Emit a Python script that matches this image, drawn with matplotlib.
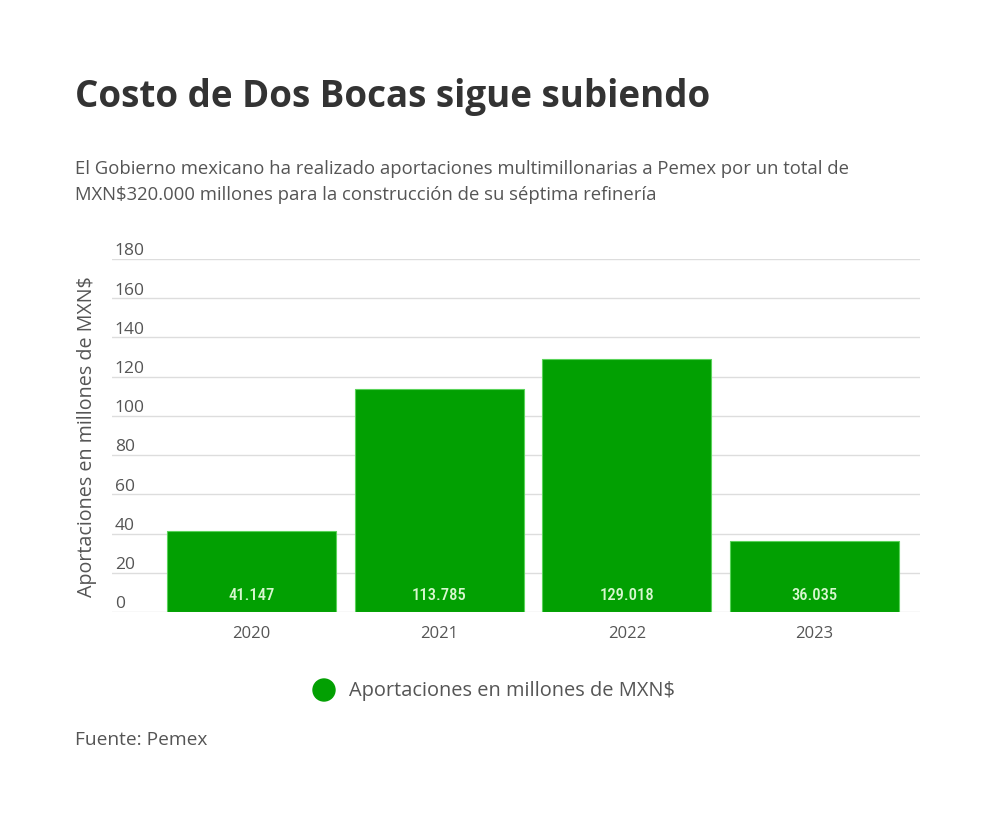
import matplotlib
matplotlib.use("Agg")
import matplotlib.pyplot as plt
from matplotlib.transforms import ScaledTranslation

years = ["2020", "2021", "2022", "2023"]
values = [41.147, 113.785, 129.018, 36.035]
value_labels = ["41.147", "113.785", "129.018", "36.035"]
yticks = [0, 20, 40, 60, 80, 100, 120, 140, 160, 180]

title = "Costo de Dos Bocas sigue subiendo"
subtitle1 = "El Gobierno mexicano ha realizado aportaciones multimillonarias a Pemex por un total de"
subtitle2 = "MXN$320.000 millones para la construcción de su séptima refinería"
ylabel = "Aportaciones en millones de MXN$"
legend_label = "Aportaciones en millones de MXN$"
source = "Fuente: Pemex"

GREEN = "#02a002"
FONT = "Open Sans"

plt.rcParams["font.family"] = [FONT, "DejaVu Sans"]

fig = plt.figure(figsize=(10, 8.37), dpi=100)
fig.patch.set_facecolor("white")
ax = fig.add_axes([0.112, 0.2676, 0.808, 0.4218])

x = list(range(len(years)))
bars = ax.bar(x, values, width=0.9, color=GREEN, edgecolor="#5ad35a", linewidth=0.8, zorder=3)

ax.set_xlim(-0.743, 3.562)
ax.set_ylim(0, 180)
ax.set_yticks(yticks)
ax.set_yticklabels([str(t) for t in yticks])
ax.yaxis.grid(True, color="#dddddd", linewidth=1, zorder=0)
ax.set_axisbelow(True)
for s in ax.spines.values():
    s.set_visible(False)
ax.tick_params(axis="y", length=0, pad=-2, labelsize=12.5, labelcolor="#555555")
ax.tick_params(axis="x", length=0, pad=9, labelsize=12, labelcolor="#555555")
ax.set_xticks(x)
ax.set_xticklabels(years)
for lab in ax.get_yticklabels():
    lab.set_horizontalalignment("left")
    lab.set_verticalalignment("bottom")
    lab.set_transform(lab.get_transform() + ScaledTranslation(0, 0.5 / 72, fig.dpi_scale_trans))

for xi, v, lab in zip(x, values, value_labels):
    ax.annotate(lab, xy=(xi, 0), xytext=(0, 7), textcoords="offset points",
                ha="center", va="bottom", fontsize=12, fontweight="medium",
                color="#d8f7d0", fontfamily=["Roboto Condensed", "Roboto", "DejaVu Sans"],
                zorder=4)

fig.text(0.087, 0.4785, ylabel, rotation=90, ha="center", va="center",
         fontsize=14.2, color="#555555")

fig.text(0.075, 0.884, title, ha="left", va="center", fontsize=26.5,
         fontweight="bold", color="#333333")
fig.text(0.075, 0.798, subtitle1, ha="left", va="center", fontsize=13.3, color="#555555")
fig.text(0.075, 0.767, subtitle2, ha="left", va="center", fontsize=13.3, color="#555555")

# legend
fig.patches.append(matplotlib.patches.Ellipse((0.324, 1 - 691 / 837), 22 / 1000, 22 / 837,
                                               transform=fig.transFigure, color=GREEN))
fig.text(0.349, 1 - 691 / 837, legend_label, ha="left", va="center", fontsize=14.4, color="#555555")

fig.text(0.075, 1 - 740 / 837, source, ha="left", va="center", fontsize=13.8, color="#555555")

fig.savefig("out.png", dpi=100, facecolor="white")
